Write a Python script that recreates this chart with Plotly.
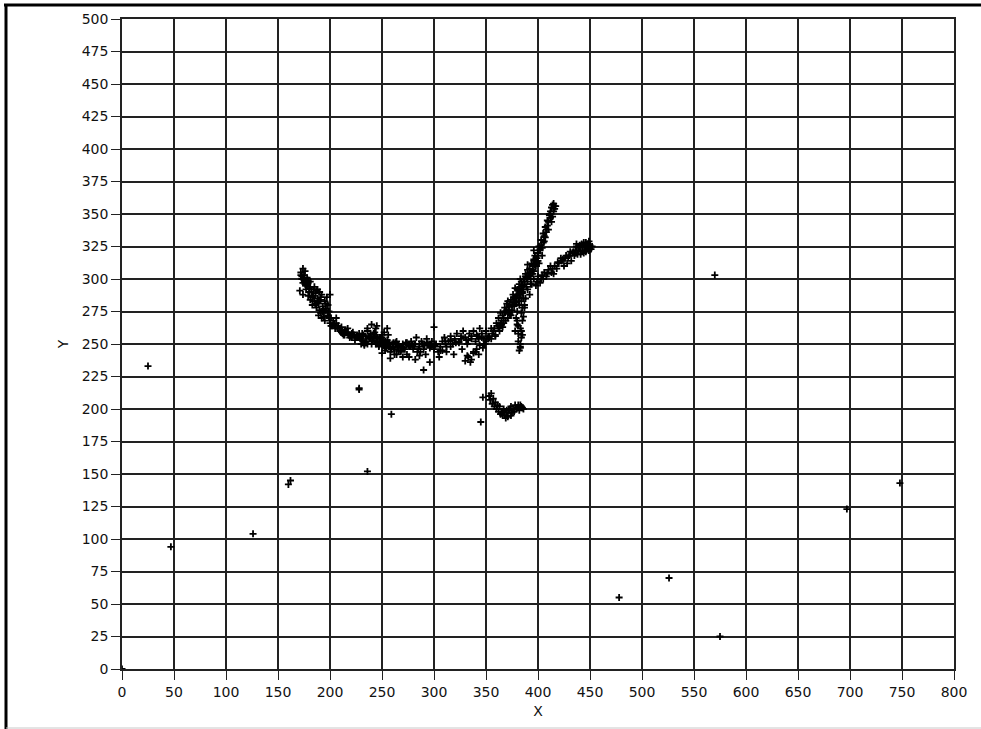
import plotly.graph_objects as go

# ---- data ----
arc_x = [172,174,175,173,176,178,171,174,177,180,182,179,184,186,188,190,192,185,183,187,
         190,193,195,197,200,189,192,195,194,198,200,203,205,208,210,212,215,218,220,222,
         225,228,230,232,235,237,240,242,244,245,247,249,250,252,253,255,257,258,260,262,
         264,266,268,270,272,274,276,278,280,282,284,286,288,290,292,294,296,298,300,302,
         304,306,308,310,312,314,316,318,320,322,324,326,328,330,332,334,336,338,340,342,
         344,346,348,350,352,176,181,186,191,196,201,206,211,216,221,226,231,236,241,246,
         251,256,261,266,271,276,281,286,291,296,301,306,311,316,321,326,331,336,341,346,
         175,179,183,188,194,199,204,209,214,219,224,229,234,239,243,248,253,259,263,268,
         173,174,176,177,178,180,181,183,185,186,188,189,191,193,196,198,202,207,213,217,
         223,227,231,233,238,241,243,246,248,251,254,256,244,239,236,233,247,250,252,257,
         172,175,177,179,181,184,187,189,191,194,196,199,201,204,206,209,211,214,217,221,
         226,229,234,238,242,245,249,253,255,258,261,265,269,273,277,281,285,289,293,297]
arc_y = [305,308,303,300,298,301,291,288,295,293,290,287,292,289,285,290,288,283,280,278,
         276,279,283,286,288,272,270,268,274,272,266,268,262,264,260,258,261,257,256,259,
         255,258,254,257,252,256,250,258,262,254,248,252,257,250,245,253,248,244,250,246,
         252,248,244,250,246,242,248,252,246,250,244,248,252,246,242,250,248,252,246,250,
         244,248,252,255,248,252,256,250,254,258,252,256,260,255,250,258,254,260,252,256,
         262,258,254,260,256,296,284,281,274,277,264,266,259,259,255,256,253,250,252,255,
         249,251,247,249,247,249,248,250,249,247,249,245,250,253,251,254,253,256,257,255,
         299,297,286,282,271,270,265,262,257,255,253,255,251,255,257,251,247,246,251,245,
         302,297,306,292,296,290,298,286,294,281,292,283,286,275,276,280,264,262,257,262,
         257,255,258,250,255,253,259,251,255,253,247,257,250,258,260,249,249,255,259,251,
         303,301,296,299,294,287,291,281,284,277,281,275,270,265,270,262,263,260,259,258,
         257,254,256,254,256,251,255,252,249,248,251,248,247,251,248,250,246,250,251,249]

scatter_x = [236,240,255,250,270,282,290,296,305,283,300,262,245,312,319,327,338,276,230,
             266,274,279,287,293,308,316,324,333,343,349,286,258,264,311,355]
scatter_y = [262,265,262,243,240,238,230,236,240,255,263,242,264,244,242,246,244,240,250,
             245,251,249,244,254,245,248,251,253,254,250,241,239,242,252,262]

steep_x = [330,333,336,338,341,344,347,350,353,356,358,360,362,364,366,368,370,372,374,376,
           378,380,382,384,386,388,390,392,394,396,398,400,401,403,405,407,409,411,413,415,
           412,414,416,408,404,396,362,367,371,375,379,383,387,391,395,399,402,406,410,398,
           393,389,385,381,377,373,369,365,355,359,363,370,374,378,386,390,394,397,401,405,
           332,335,340,343,348,352,357,361,365,368,372,376,380,384,388,392,396,400,403,407,
           410,413,415,417,414,411,409,406,402,399,395,391,387,383,379,375,371,367,363,359,
           364,369,373,377,381,385,389,393,397,400,404,408,412,416,366,372,378,384,390,396]
steep_y = [237,240,238,243,246,249,247,252,255,258,262,266,270,274,272,278,281,276,284,288,
           285,292,296,290,300,304,298,308,312,306,316,320,325,330,335,340,345,350,355,358,
           352,348,354,336,318,322,262,270,283,280,287,300,298,302,307,313,322,329,344,310,
           300,294,289,283,279,273,268,265,254,256,260,276,272,293,292,311,296,318,312,328,
           241,236,244,242,250,254,260,264,268,275,279,282,288,294,302,305,314,318,326,332,
           338,344,352,356,357,349,341,333,323,316,310,303,296,288,282,276,270,266,264,257,
           266,275,280,286,291,295,301,305,311,314,324,338,347,356,263,274,282,298,307,315]

vert_x = [382,383,384,381,383,385,384,382,380,386,385,381,379,383,387,382,384,380,
          383,385,381,384,382,386]
vert_y = [245,250,255,258,262,268,274,280,265,285,290,252,270,248,278,286,260,275,
          247,257,264,283,293,271]

shallow_x = [378,380,385,388,390,393,396,400,403,406,410,413,416,420,423,426,428,430,433,436,
             438,440,443,445,448,450,446,442,392,398,402,408,412,418,422,425,432,435,439,444,
             447,449,387,395,405,415,427,437,441,451,434,437,441,444,446,448,450,452,439,443,
             399,404,409,414,419,424,429,431,436,440,445,449]
shallow_y = [260,268,278,285,292,296,300,302,300,305,307,305,310,312,314,316,312,318,320,322,
             319,324,322,326,324,326,328,327,288,295,297,302,310,308,316,310,314,318,325,320,
             323,322,280,304,300,304,318,325,321,323,321,327,319,328,321,327,323,325,322,326,
             298,303,304,308,313,315,317,321,320,326,325,329]

low_x = [345,347,355,357,356,358,360,362,364,366,368,370,372,374,376,378,380,382,384,386,
         363,367,371,375,353,359,365,369,373,377,381,385,354,361,366,370,374,379,383]
low_y = [190,209,212,208,204,202,200,198,196,198,195,197,199,202,200,203,201,199,202,200,
         202,200,194,197,210,205,197,193,200,198,203,201,207,203,195,199,195,200,203]

outlier_x = [0,25,47,126,160,162,228,228,236,259,478,526,570,575,697,748]
outlier_y = [0,233,94,104,142,145,215,216,152,196,55,70,303,25,123,143]

all_x = arc_x + scatter_x + steep_x + vert_x + shallow_x + low_x + outlier_x
all_y = arc_y + scatter_y + steep_y + vert_y + shallow_y + low_y + outlier_y

FONT = "DejaVu Sans, Verdana, sans-serif"

fig = go.Figure()
fig.add_trace(go.Scatter(
    x=all_x, y=all_y, mode="markers",
    marker=dict(symbol="cross-thin", size=5, line=dict(width=1.8, color="black"), color="black"),
    showlegend=False, hoverinfo="x+y"))

axis_common = dict(
    showgrid=True, gridcolor="#222222", gridwidth=1.6,
    zeroline=False, showline=True, linecolor="#222222", linewidth=1.6,
    ticks="outside", ticklen=9, tickcolor="#222222", tickwidth=1.2,
    tickfont=dict(family=FONT, size=14, color="#111"),
    mirror=True,
)

fig.update_xaxes(range=[0, 800], dtick=50, tick0=0,
                 title=dict(text="X", standoff=8, font=dict(family=FONT, size=14, color="#111")),
                 **axis_common)
fig.update_yaxes(range=[0, 500], dtick=25, tick0=0,
                 title=dict(text="Y", standoff=10, font=dict(family=FONT, size=14, color="#111")),
                 **axis_common)

W, H = 981, 729
L, R, T, B = 122, 27, 19, 60
pw, ph = W - L - R, H - T - B

def px_x(p):
    return (p - L) / pw

def px_y(p):
    return (H - B - p) / ph

fig.update_layout(
    width=W, height=H,
    margin=dict(l=L, r=R, t=T, b=B),
    plot_bgcolor="white", paper_bgcolor="white",
    shapes=[
        dict(type="line", xref="paper", yref="paper", x0=px_x(4), x1=px_x(981), y0=px_y(5), y1=px_y(5),
             line=dict(color="black", width=3)),
        dict(type="line", xref="paper", yref="paper", x0=px_x(6), x1=px_x(6), y0=px_y(5), y1=px_y(729),
             line=dict(color="black", width=3)),
        dict(type="line", xref="paper", yref="paper", x0=px_x(6), x1=px_x(981), y0=px_y(728), y1=px_y(728),
             line=dict(color="#c8c8c8", width=1)),
    ],
)

fig.write_html(
    "out.html",
    config={"displayModeBar": False},
    post_script="document.body.style.margin='0';document.body.style.padding='0';"
                "document.documentElement.style.overflow='hidden';document.body.style.overflow='hidden';",
)
